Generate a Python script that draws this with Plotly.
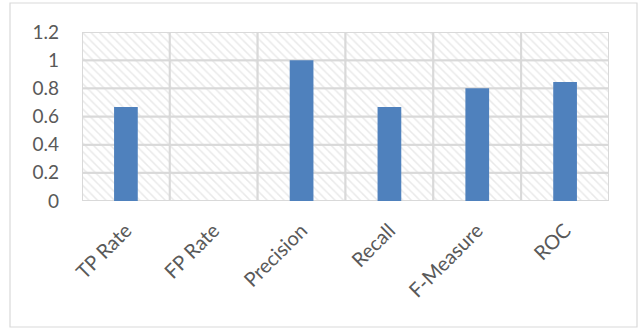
import plotly.graph_objects as go

# Classifier evaluation metrics
metrics = ["TP Rate", "FP Rate", "Precision", "Recall", "F-Measure", "ROC"]
scores = [0.667, 0.0, 1.0, 0.667, 0.8, 0.845]
y_max = 1.2
y_step = 0.2
y_ticks = [0, 0.2, 0.4, 0.6, 0.8, 1, 1.2]
y_tick_text = ["0", "0.2", "0.4", "0.6", "0.8", "1", "1.2"]

W, H = 640, 329
L, R, T, B = 82, 31, 32, 128
pw, ph = W - L - R, H - T - B
GRID = "#d9d9d9"

fig = go.Figure()

# hatched plot-area backdrop: one bordered cell per category and 0.2 band,
# so the cell outlines form the grid
n_bands = round(y_max / y_step)
for k in range(n_bands):
    fig.add_trace(go.Bar(
        x=metrics, y=[y_step] * len(metrics), base=[k * y_step] * len(metrics),
        width=1,
        marker=dict(color="white", line=dict(width=2, color=GRID),
                    pattern=dict(shape="\\", fgcolor="#d4d4d4", bgcolor="white",
                                 size=6, solidity=0.25)),
        hoverinfo="skip", showlegend=False,
    ))

fig.add_trace(go.Bar(
    x=metrics, y=scores, width=0.27,
    marker=dict(color="#4f81bd", line=dict(width=0)),
    showlegend=False,
))

# outer chart frame
fig.add_shape(type="rect", xref="paper", yref="paper",
              x0=(10 - L) / pw, x1=(637 - L) / pw,
              y0=-(327 - T - ph) / ph, y1=1 + (T - 3) / ph,
              line=dict(color=GRID, width=1.2), fillcolor="rgba(0,0,0,0)",
              layer="below")

fig.update_layout(
    width=W, height=H,
    margin=dict(l=L, r=R, t=T, b=B),
    paper_bgcolor="white", plot_bgcolor="white",
    barmode="overlay",
    font=dict(family="Lato, 'Open Sans', sans-serif", color="#595959"),
    xaxis=dict(
        type="category", showgrid=False, showline=False,
        ticks="", tickangle=-45, tickfont=dict(size=20),
        ticklabelstandoff=13,
    ),
    yaxis=dict(
        range=[0, y_max], tickvals=y_ticks, ticktext=y_tick_text,
        showgrid=False, showline=False, zeroline=False,
        ticks="", tickfont=dict(size=19),
        ticklabelstandoff=22,
    ),
)

fig.write_html("out.html")
